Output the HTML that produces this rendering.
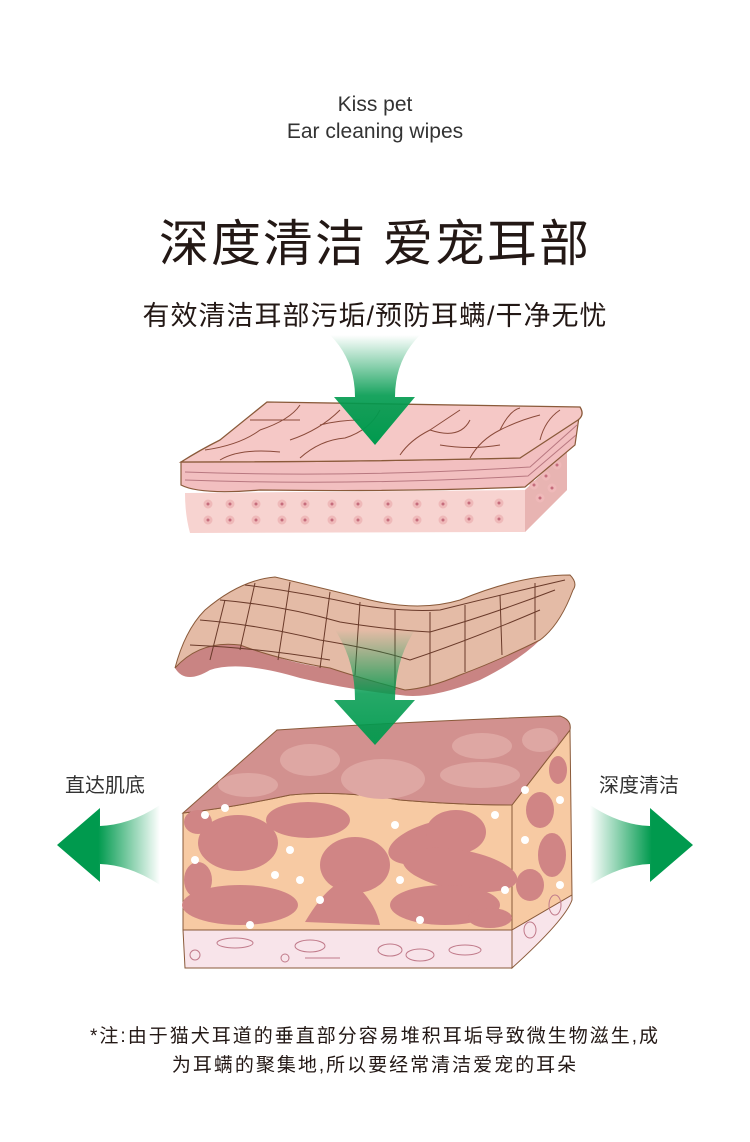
<!DOCTYPE html>
<html><head><meta charset="utf-8"><style>
body{margin:0;background:#fff;}
.w{position:relative;width:750px;height:1142px;overflow:hidden;font-family:"Liberation Sans","Noto Sans CJK SC",sans-serif;color:#231815;}
.t{position:absolute;left:0;width:750px;text-align:center;white-space:nowrap;}
</style></head><body><div class="w">
<div class="t" style="top:93px;font-size:21px;color:#333;">Kiss pet</div>
<div class="t" style="top:120px;font-size:21px;color:#333;">Ear cleaning wipes</div>
<div class="t" style="top:204px;font-size:50px;letter-spacing:2px;">深度清洁 爱宠耳部</div>
<div class="t" style="top:294px;font-size:27px;letter-spacing:1px;">有效清洁耳部污垢/预防耳螨/干净无忧</div>
<div class="t" style="top:769px;left:55px;width:100px;font-size:20px;color:#333;">直达肌底</div>
<div class="t" style="top:769px;left:589px;width:100px;font-size:20px;color:#333;">深度清洁</div>
<div class="t" style="top:1021px;font-size:19px;letter-spacing:2px;">*注:由于猫犬耳道的垂直部分容易堆积耳垢导致微生物滋生,成</div>
<div class="t" style="top:1050px;font-size:19px;letter-spacing:2px;">为耳螨的聚集地,所以要经常清洁爱宠的耳朵</div>
<svg width="750" height="1142" style="position:absolute;left:0;top:0">
<defs>
<linearGradient id="gd" x1="0" y1="0" x2="0" y2="1"><stop offset="0" stop-color="#009a4e" stop-opacity="0"/><stop offset="0.55" stop-color="#009a4e" stop-opacity="0.9"/><stop offset="1" stop-color="#009a4e"/></linearGradient>
<linearGradient id="gl" x1="1" y1="0" x2="0" y2="0"><stop offset="0" stop-color="#009a4e" stop-opacity="0"/><stop offset="0.6" stop-color="#009a4e"/></linearGradient>
<linearGradient id="gr" x1="0" y1="0" x2="1" y2="0"><stop offset="0" stop-color="#009a4e" stop-opacity="0"/><stop offset="0.6" stop-color="#009a4e"/></linearGradient>
</defs>
<path d="M185 493 L525 490 L567 450 L567 490 L525 532 L190 533 Q185 515 185 493Z" fill="#f7d3d0"/>
<path d="M525 490 L567 450 L567 490 L525 532Z" fill="#e8b4b2"/>
<g fill="#c56c7c" stroke="#efb9b9" stroke-width="3"><circle cx="208" cy="504" r="3"/><circle cx="230" cy="504" r="3"/><circle cx="256" cy="504" r="3"/><circle cx="282" cy="504" r="3"/><circle cx="305" cy="504" r="3"/><circle cx="332" cy="504" r="3"/><circle cx="358" cy="504" r="3"/><circle cx="388" cy="504" r="3"/><circle cx="417" cy="504" r="3"/><circle cx="443" cy="504" r="3"/><circle cx="469" cy="503" r="3"/><circle cx="499" cy="503" r="3"/>
<circle cx="208" cy="520" r="3"/><circle cx="230" cy="520" r="3"/><circle cx="256" cy="520" r="3"/><circle cx="282" cy="520" r="3"/><circle cx="305" cy="520" r="3"/><circle cx="332" cy="520" r="3"/><circle cx="358" cy="520" r="3"/><circle cx="388" cy="520" r="3"/><circle cx="417" cy="520" r="3"/><circle cx="443" cy="520" r="3"/><circle cx="469" cy="519" r="3"/><circle cx="499" cy="519" r="3"/>
<circle cx="534" cy="485" r="3"/><circle cx="546" cy="476" r="3"/><circle cx="557" cy="465" r="3"/><circle cx="540" cy="498" r="3"/><circle cx="552" cy="488" r="3"/></g>
<path d="M181 462 L181 485 Q200 495 260 490 Q400 492 525 487 L575 445 L580 410 L520 458 Q350 462 181 462Z" fill="#f2bfc0" stroke="#8a5a3a" stroke-width="1.2"/>
<path d="M185 472 Q350 478 530 467 L577 425 M185 480 Q350 486 528 476 L576 435" fill="none" stroke="#b87880" stroke-width="1"/>
<path d="M181 462 Q200 450 220 440 L267 402 L580 407 Q585 415 578 420 L520 458 Q350 462 181 462Z" fill="#f5c8c6" stroke="#8a5a3a" stroke-width="1.3"/>
<g fill="none" stroke="#8a4a3a" stroke-width="1"><path d="M205 450 Q240 445 260 430 M220 460 Q240 448 280 452 M260 430 Q290 420 300 405 M290 440 Q320 430 340 410 M300 458 Q320 440 345 438 Q370 430 380 410 M400 455 Q410 440 430 430 L460 410 M430 430 Q460 440 470 420 M470 458 Q480 440 500 430 Q520 420 540 415 M500 430 Q510 410 520 408 M540 440 Q545 420 560 410 M320 425 Q340 420 360 420 M250 420 L300 420 M440 445 Q470 450 500 445"/></g>
<path d="M175 668 Q190 640 230 640 Q290 665 330 668 Q380 680 405 690 Q440 680 480 665 Q520 650 540 640 L573 590 Q560 620 540 640 Q520 660 480 680 Q430 700 400 695 Q350 690 300 678 Q240 660 210 670 Q185 685 175 668Z" fill="#c98483"/>
<path d="M175 668 Q185 630 205 610 Q240 580 275 577 Q330 590 370 600 Q420 612 460 600 Q520 575 570 575 Q578 583 573 590 Q560 625 540 640 Q500 660 460 675 Q430 688 405 690 Q360 678 330 668 Q280 660 240 645 Q200 640 175 668Z" fill="#e4bba6" stroke="#8a5a3a" stroke-width="1"/>
<g fill="none" stroke="#6a3a2a" stroke-width="1"><path d="M200 620 Q260 625 320 640 Q380 650 410 660 Q470 640 540 610"/><path d="M220 600 Q280 605 340 622 Q390 630 430 632 Q490 615 555 590"/><path d="M245 585 Q300 592 360 605 Q400 612 440 610 Q500 595 565 580"/><path d="M190 645 Q260 648 330 660"/><path d="M225 600 L210 660 M255 583 L240 650 M290 582 L278 660 M330 592 L320 668 M360 602 L355 675 M395 610 L395 690 M430 612 L430 685 M465 605 L465 672 M500 595 L502 655 M535 583 L535 640"/></g>
<path d="M183 930 L512 930 L512 968 L185 968Z" fill="#f8e4ea" stroke="#8a5a3a" stroke-width="1"/>
<path d="M183 813 Q230 808 290 795 Q340 790 400 800 Q460 805 512 805 L512 930 L183 930Z" fill="#f7caa3" stroke="#8a5a3a" stroke-width="1"/>
<path d="M512 805 L570 730 L572 895 L512 930Z" fill="#f7caa3" stroke="#8a5a3a" stroke-width="1"/>
<path d="M512 930 L572 895 L572 900 Q565 920 512 968Z" fill="#f8e4ea" stroke="#8a5a3a" stroke-width="1"/>
<path d="M183 813 L277 730 Q400 722 560 716 Q572 720 570 730 L512 805 Q460 805 400 800 Q340 790 290 795 Q230 808 183 813Z" fill="#d2918f" stroke="#8a5a3a" stroke-width="1"/>
<g fill="#dea7a3"><ellipse cx="383" cy="779" rx="42" ry="20"/><ellipse cx="310" cy="760" rx="30" ry="16"/><ellipse cx="482" cy="746" rx="30" ry="13"/><ellipse cx="480" cy="775" rx="40" ry="13"/><ellipse cx="248" cy="785" rx="30" ry="12"/><ellipse cx="540" cy="740" rx="18" ry="12"/></g>
<g fill="#d08585"><ellipse cx="238" cy="843" rx="40" ry="28"/><ellipse cx="308" cy="820" rx="42" ry="18"/><ellipse cx="355" cy="865" rx="35" ry="28"/><ellipse cx="435" cy="842" rx="48" ry="20" transform="rotate(-15 435 842)"/><ellipse cx="456" cy="832" rx="30" ry="22"/><ellipse cx="460" cy="870" rx="58" ry="20" transform="rotate(10 460 870)"/><ellipse cx="240" cy="905" rx="58" ry="20"/><path d="M305 922 Q330 880 350 880 Q375 900 380 925Z"/><ellipse cx="445" cy="905" rx="55" ry="20"/><ellipse cx="198" cy="880" rx="14" ry="18"/><ellipse cx="490" cy="918" rx="22" ry="10"/><ellipse cx="198" cy="822" rx="14" ry="12"/><ellipse cx="540" cy="810" rx="14" ry="18"/><ellipse cx="552" cy="855" rx="14" ry="22"/><ellipse cx="530" cy="885" rx="14" ry="16"/><ellipse cx="558" cy="770" rx="9" ry="14"/></g>
<g fill="#fff"><circle cx="205" cy="815" r="4"/><circle cx="225" cy="808" r="4"/><circle cx="290" cy="850" r="4"/><circle cx="300" cy="880" r="4"/><circle cx="395" cy="825" r="4"/><circle cx="400" cy="880" r="4"/><circle cx="320" cy="900" r="4"/><circle cx="495" cy="815" r="4"/><circle cx="505" cy="890" r="4"/><circle cx="195" cy="860" r="4"/><circle cx="275" cy="875" r="4"/><circle cx="420" cy="920" r="4"/><circle cx="250" cy="925" r="4"/><circle cx="525" cy="790" r="4"/><circle cx="560" cy="800" r="4"/><circle cx="525" cy="840" r="4"/><circle cx="560" cy="885" r="4"/></g>
<g fill="none" stroke="#c07a8a" stroke-width="1"><ellipse cx="235" cy="943" rx="18" ry="5"/><ellipse cx="310" cy="946" rx="15" ry="6"/><path d="M305 958 L340 958"/><ellipse cx="390" cy="950" rx="12" ry="6"/><ellipse cx="420" cy="955" rx="14" ry="6"/><ellipse cx="465" cy="950" rx="16" ry="5"/><circle cx="195" cy="955" r="5"/><circle cx="285" cy="958" r="4"/><ellipse cx="555" cy="905" rx="6" ry="10"/><ellipse cx="530" cy="930" rx="6" ry="8"/></g>
<path d="M330 335 L420 335 Q395 360 395 397 L415 397 L375 445 L334 397 L355 397 Q355 360 330 335Z" fill="url(#gd)"/>
<path d="M335 630 L415 630 Q395 660 395 700 L415 700 L375 745 L334 700 L355 700 Q355 660 335 630Z" fill="url(#gd)" opacity="0.95"/>
<path d="M160 805 Q130 825 100 826 L100 808 L57 845 L100 882 L100 864 Q130 865 160 885Z" fill="url(#gl)"/>
<path d="M590 805 Q620 825 650 826 L650 808 L693 845 L650 882 L650 864 Q620 865 590 885Z" fill="url(#gr)"/>
</svg>
</div></body></html>
